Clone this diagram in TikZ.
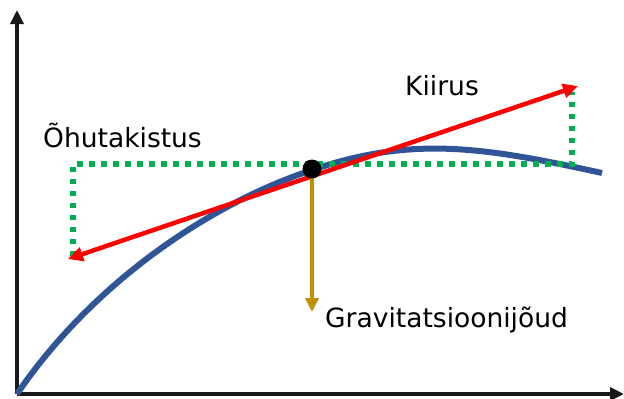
\documentclass[tikz,border=0pt]{standalone}
\usepackage{fontspec}
\setmainfont{DejaVu Sans}
\usetikzlibrary{arrows.meta}
\definecolor{curveblue}{HTML}{2F5597}
\definecolor{dotgreen}{HTML}{00B050}
\definecolor{gold}{HTML}{BF9000}
\tikzset{
  axis/.style={line width=4pt, color=black!90, -{Triangle[width=13pt,length=14pt]}},
  vel/.style={line width=4.5pt, red, {Triangle[width=14pt,length=15pt]}-{Triangle[width=14pt,length=15pt]}},
  comp/.style={line width=5.5pt, dotgreen, dash pattern=on 5.5pt off 6.5pt},
  grav/.style={line width=3.5pt, gold, -{Triangle[width=13pt,length=14pt]}},
  lbl/.style={font=\fontsize{26.5pt}{28pt}\selectfont, inner sep=0pt}
}
\begin{document}
\begin{tikzpicture}[x=1pt,y=-1pt]
\useasboundingbox (0,0) rectangle (624,399);
\coordinate (O) at (17,394);
\coordinate (Ytop) at (17,10);
\coordinate (Xend) at (624,394);
\draw[axis] (O) -- (Ytop);
\draw[axis] (O) -- (Xend);
\coordinate (P) at (312,169);
\coordinate (Cend) at (602,173);
\draw[line width=6pt, curveblue] (O) .. controls (94,281) and (212,203) .. (312,170)
  .. controls (412,136) and (482,146.6) .. (Cend);
\coordinate (DL) at (73,164);
\coordinate (DLb) at (73,256);
\coordinate (DR) at (572,164);
\coordinate (DRt) at (572,92);
\coordinate (Pg) at (312,164);
\draw[comp] (DLb) -- (DL) -- (Pg) -- (DR) -- (DRt);
\coordinate (VL) at (68,259);
\coordinate (VR) at (578,86);
\draw[vel] (VL) -- (VR);
\coordinate (G) at (312,312);
\draw[grav] (P) -- (G);
\fill[black] (P) circle (9.5pt);
\node[lbl, anchor=west] (t1) at (43,135) {Õhutakistus};
\node[lbl, anchor=west] (t2) at (405,86) {Kiirus};
\node[lbl, anchor=west] (t3) at (325,320) {Gravitatsioonijõud};
\end{tikzpicture}
\end{document}
